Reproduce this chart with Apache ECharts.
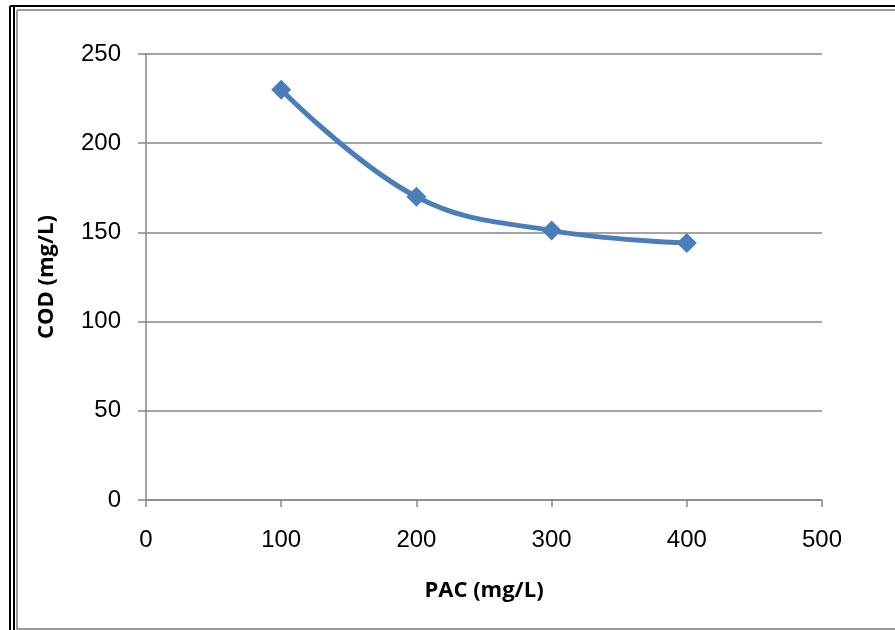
<!DOCTYPE html>
<html><head><meta charset="utf-8">
<script src="https://cdn.jsdelivr.net/npm/echarts@6/dist/echarts.min.js"></script>
<style>html,body{margin:0;padding:0;background:#fff}#c{width:895px;height:630px}</style>
</head><body><div id="c"></div>
<script>
const pac = [100, 200, 300, 400];
const cod = [230, 170, 151, 144];
const xTicks = [0, 100, 200, 300, 400, 500];
const yTicks = [0, 50, 100, 150, 200, 250];

const chart = echarts.init(document.getElementById('c'), null, {renderer: 'canvas'});
const gray = '#868686';
chart.setOption({
  animation: false,
  backgroundColor: '#fff',
  graphic: [
    {type: 'line', shape: {x1: 10, y1: 6, x2: 895, y2: 6}, style: {stroke: '#000', lineWidth: 2}},
    {type: 'line', shape: {x1: 10, y1: 6, x2: 10, y2: 630}, style: {stroke: '#000', lineWidth: 2}},
    {type: 'line', shape: {x1: 14, y1: 6, x2: 14, y2: 630}, style: {stroke: '#000', lineWidth: 2}},
    {type: 'line', shape: {x1: 17, y1: 10, x2: 895, y2: 10}, style: {stroke: '#9a9a9a', lineWidth: 2}},
    {type: 'line', shape: {x1: 17, y1: 10, x2: 17, y2: 630}, style: {stroke: '#9a9a9a', lineWidth: 2}},
    {type: 'line', shape: {x1: 17, y1: 629, x2: 895, y2: 629}, style: {stroke: '#9a9a9a', lineWidth: 2}}
  ],
  grid: {left: 146, top: 54, right: 73, bottom: 130, containLabel: false},
  xAxis: {
    type: 'value', min: xTicks[0], max: xTicks[xTicks.length - 1], interval: 100,
    name: 'PAC (mg/L)', nameLocation: 'middle', nameGap: 80,
    nameTextStyle: {fontFamily: 'Open Sans', fontWeight: 'bold', fontSize: 22, color: '#000'},
    axisLine: {show: true, lineStyle: {color: gray, width: 1.5}},
    axisTick: {show: true, length: 7, lineStyle: {color: gray, width: 1.5}},
    axisLabel: {fontFamily: 'Liberation Sans', fontSize: 24, color: '#000', margin: 28},
    splitLine: {show: false}
  },
  yAxis: {
    type: 'value', min: yTicks[0], max: yTicks[yTicks.length - 1], interval: 50,
    name: 'COD (mg/L)', nameLocation: 'middle', nameGap: 88, nameRotate: 90,
    nameTextStyle: {fontFamily: 'Open Sans', fontWeight: 'bold', fontSize: 22, color: '#000'},
    axisLine: {show: true, lineStyle: {color: gray, width: 1.5}},
    axisTick: {show: true, length: 8, lineStyle: {color: gray, width: 1.5}},
    axisLabel: {fontFamily: 'Liberation Sans', fontSize: 24, color: '#000', margin: 25},
    splitLine: {show: true, lineStyle: {color: gray, width: 1.5}}
  },
  series: [{
    type: 'line',
    data: pac.map((x, i) => [x, cod[i]]),
    smooth: 0.4,
    symbol: 'diamond', symbolSize: 20,
    lineStyle: {color: '#4a7ebb', width: 5},
    itemStyle: {color: '#4a7ebb'}
  }]
});
</script></body></html>
